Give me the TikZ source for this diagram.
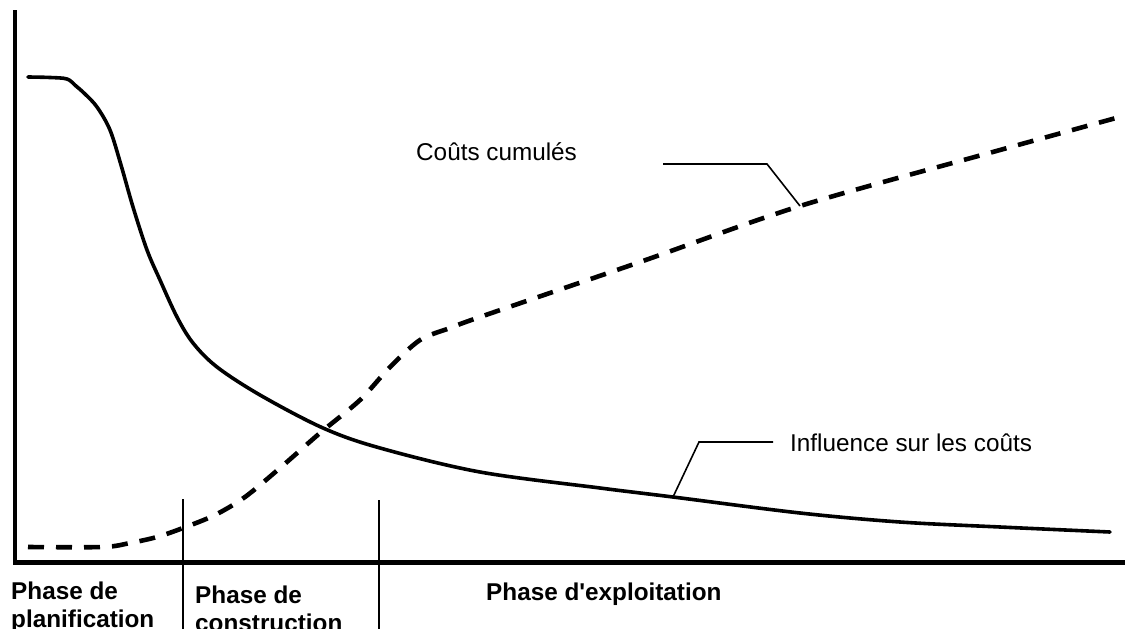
\documentclass[tikz,border=0pt]{standalone}
\usepackage{fontspec}
\setmainfont{Liberation Sans}
\begin{document}
\begin{tikzpicture}[x=1pt,y=-1pt,
  axisline/.style={line width=4.5pt,line join=miter},
  divider/.style={line width=1.8pt},
  leader/.style={line width=1.6pt,line join=miter},
  influence/.style={line width=3.6pt,line cap=round,line join=round},
  cumul/.style={line width=4.6pt,dash pattern=on 16pt off 12pt},
  lbl/.style={anchor=base west,inner sep=0pt,font=\fontsize{24.3}{28.5}\selectfont},
  phase/.style={lbl,font=\fontsize{24.3}{28.5}\selectfont\bfseries}]
\useasboundingbox (0,0) rectangle (1125,629);

% axes
\coordinate (ytop) at (15,10);
\coordinate (origin) at (15,562.5);
\coordinate (xend) at (1126,562.5);
\draw[axisline] (ytop) -- (origin) -- (xend);

% phase boundaries
\coordinate (d1top) at (183,499);
\coordinate (d1bot) at (183,632);
\coordinate (d2top) at (379,500);
\coordinate (d2bot) at (379,632);
\draw[divider] (d1top) -- (d1bot);
\draw[divider] (d2top) -- (d2bot);

% influence on costs
\draw[influence] plot[smooth,tension=0.55] coordinates {
  (28,77) (50,77.5) (67,79) (76,86) (85,94) (97,107) (110,130) (121,165)
  (133,207) (147,250) (160,280) (177,317) (193,343) (217,367) (260,395)
  (323,428) (380,448) (480,472) (600,488) (673,497) (800,513) (900,522)
  (1000,527) (1110,532)};

% cumulative costs
\draw[cumul] plot[smooth,tension=0.5] coordinates {
  (28,547) (103,547) (130,543) (157,537) (183,528) (215,515) (245,497)
  (280,468) (320,433) (360,400) (390,367) (420,340) (450,328) (480,317)
  (640,262) (800,206) (1000,150) (1116,118)};

% labels with leaders
\node[lbl] (cc) at (416,160.5) {Coûts cumulés};
\coordinate (cc1) at (663,164);
\coordinate (cc2) at (767,164);
\coordinate (cc3) at (800,206);
\draw[leader] (cc1) -- (cc2) -- (cc3);

\node[lbl] (inf) at (790,451) {Influence sur les coûts};
\coordinate (in1) at (773,442);
\coordinate (in2) at (699,442);
\coordinate (in3) at (673,497);
\draw[leader] (in1) -- (in2) -- (in3);

% phase names
\node[phase] (p1a) at (11,599) {Phase de};
\node[phase] (p1b) at (11,627.5) {planification};
\node[phase] (p2a) at (195,603) {Phase de};
\node[phase] (p2b) at (195,631.5) {construction};
\node[phase] (p3) at (486,600) {Phase d\textquotesingle exploitation};
\end{tikzpicture}
\end{document}
